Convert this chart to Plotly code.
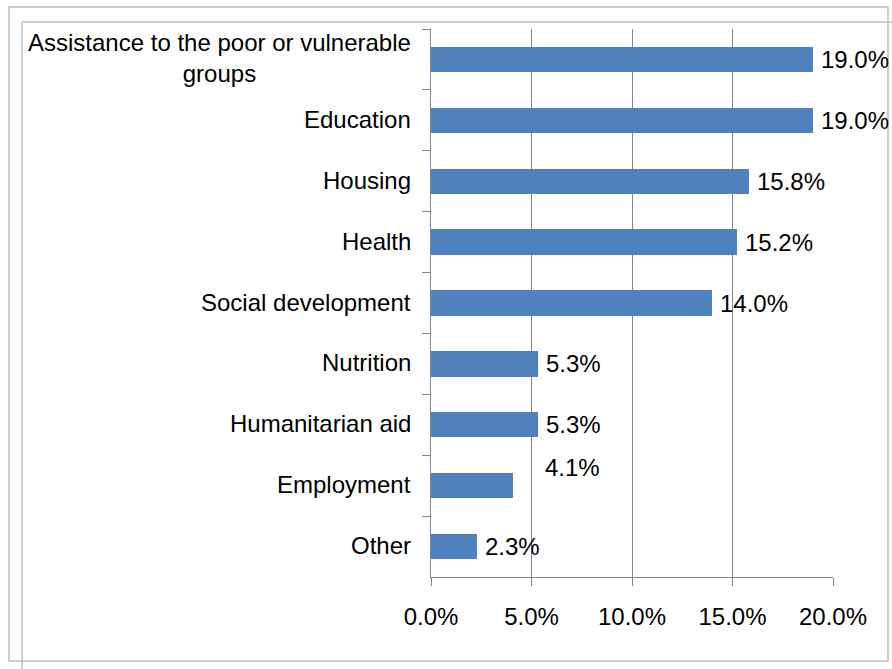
import plotly.graph_objects as go

# Share of projects by sector (%)
categories = [
    "Assistance to the poor or vulnerable groups",
    "Education",
    "Housing",
    "Health",
    "Social development",
    "Nutrition",
    "Humanitarian aid",
    "Employment",
    "Other",
]
axis_labels = [
    "Assistance to the poor or vulnerable<br>groups",
    "Education",
    "Housing",
    "Health",
    "Social development",
    "Nutrition",
    "Humanitarian aid",
    "Employment",
    "Other",
]
values = [19.0, 19.0, 15.8, 15.2, 14.0, 5.3, 5.3, 4.1, 2.3]
x_ticks = [0, 5, 10, 15, 20]
x_tick_text = [f"{t:.1f}%" for t in x_ticks]

W, H = 892, 669
L, R, T, B = 431, 59, 29, 92
FONT = "Liberation Sans, Arial, sans-serif"
FS = 24
BAR = "#4F81BD"
AXIS = "#868686"
FRAME = "#BDBDBD"

fig = go.Figure(
    go.Bar(
        x=values,
        y=categories,
        orientation="h",
        width=0.417,
        marker=dict(color=BAR, line=dict(width=0)),
        hoverinfo="skip",
    )
)

annotations = []
# category labels (centred multi-line text, right edge near the axis)
for cat, lab in zip(categories, axis_labels):
    annotations.append(dict(
        x=0, xref="paper", y=cat, yref="y",
        text=lab, showarrow=False, xanchor="right", yanchor="middle",
        align="center", xshift=-18, yshift=1,
        font=dict(family=FONT, size=FS, color="black"),
    ))

# value labels at the bar ends; the Employment label sits raised and to the right
label_shift = {"Employment": (30, 18)}
for cat, v in zip(categories, values):
    dx, dy = label_shift.get(cat, (6, 0))
    annotations.append(dict(
        x=v, xref="x", y=cat, yref="y",
        text=f"{v:.1f}%", showarrow=False, xanchor="left", yanchor="middle",
        xshift=dx, yshift=dy,
        font=dict(family=FONT, size=FS, color="black"),
    ))


def px_x(px):
    return (px - L) / (W - L - R)


def px_y(py):
    return (H - B - py) / (H - T - B)


line = dict(color=FRAME, width=1.5)
shapes = [
    # outer frame
    dict(type="rect", xref="paper", yref="paper",
         x0=px_x(9), x1=px_x(888), y0=px_y(661), y1=px_y(7), line=line),
    # inner frame (top and left edges)
    dict(type="line", xref="paper", yref="paper",
         x0=px_x(22), x1=px_x(900), y0=px_y(22), y1=px_y(22), line=line),
    dict(type="line", xref="paper", yref="paper",
         x0=px_x(22), x1=px_x(22), y0=px_y(22), y1=px_y(680), line=line),
]

fig.update_layout(
    width=W, height=H,
    margin=dict(l=L, r=R, t=T, b=B, pad=0),
    paper_bgcolor="white", plot_bgcolor="white",
    showlegend=False,
    font=dict(family=FONT, size=FS, color="black"),
    annotations=annotations,
    shapes=shapes,
    bargap=0,
)
fig.update_xaxes(
    range=[0, 20], tickmode="array", tickvals=x_ticks, ticktext=x_tick_text,
    showgrid=True, gridcolor=AXIS, gridwidth=1,
    showline=True, linecolor=AXIS, linewidth=1,
    ticks="outside", ticklen=8, tickcolor=AXIS, ticklabelstandoff=10,
    zeroline=False, fixedrange=True,
    tickfont=dict(family=FONT, size=FS, color="black"),
)
fig.update_yaxes(
    type="category", autorange="reversed", tickson="boundaries",
    showticklabels=False, showgrid=False,
    showline=True, linecolor=AXIS, linewidth=1,
    ticks="outside", ticklen=8, tickcolor=AXIS,
    fixedrange=True,
)

fig.write_html("out.html")
